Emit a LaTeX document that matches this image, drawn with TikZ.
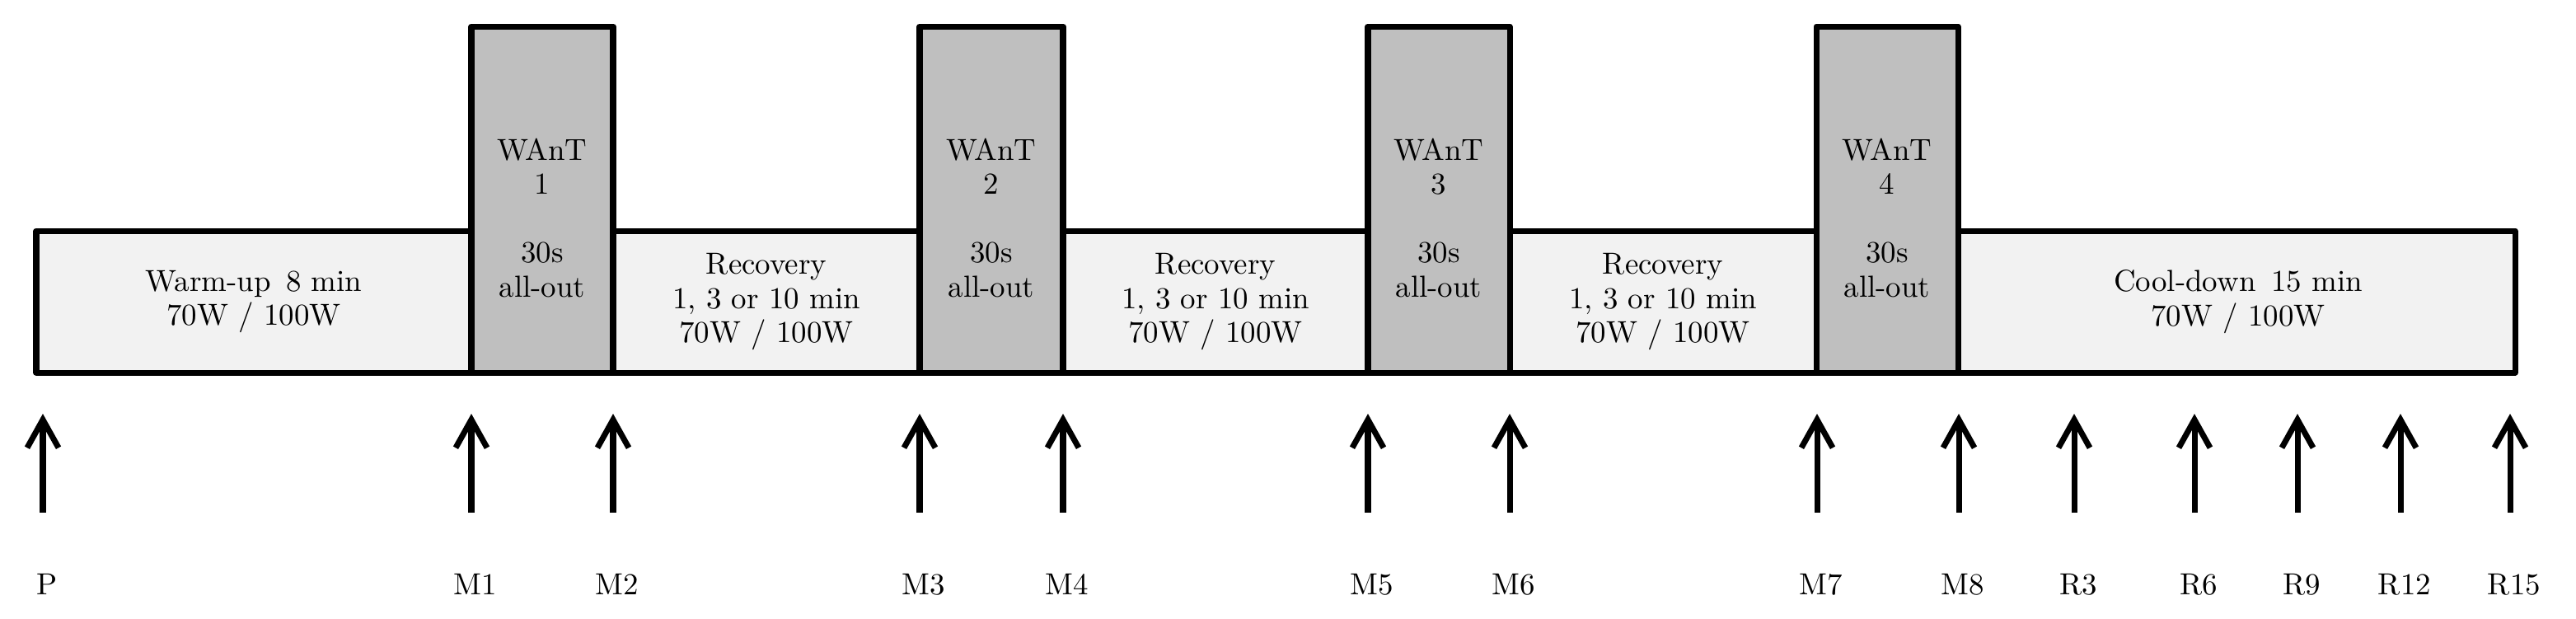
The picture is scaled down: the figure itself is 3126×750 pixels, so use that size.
\documentclass[tikz,border=0pt]{standalone}
\usetikzlibrary{arrows.meta}
\begin{document}
\begin{tikzpicture}[x=0.01cm,y=-0.01cm,
  lw/.style={line width=2pt, line join=round},
  light/.style={lw, fill={rgb,255:red,242;green,242;blue,242}},
  dark/.style={lw, fill={rgb,255:red,191;green,191;blue,191}},
  txt/.style={align=center, font=\fontsize{10.5}{11.8}\selectfont, inner sep=0pt},
  arr/.style={line width=2pt, -{Straight Barb[length=3.4mm,width=3.8mm,line width=2pt]}},
  lab/.style={font=\fontsize{10.5}{12}\selectfont, inner sep=0pt}]
\useasboundingbox (0,0) rectangle (3126,750);
% bar
\draw[light] (44,280) rectangle (3052,452);
% WAnT boxes
\foreach \a/\b/\n in {572/744/1,1116/1290/2,1660/1832/3,2204/2376/4}{
  \draw[dark] (\a,452) -- (\a,32) -- (\b,32) -- (\b,452);
  \node[txt] (w\n) at ({(\a+\b)/2},264) {WAnT\\\n\\[\baselineskip]30s\\all-out};
}
\draw[lw] (44,452) -- (3052,452);
\node[txt] (wu) at (308,366) {Warm-up\enspace 8 min\\70W / 100W};
\node[txt] (r1) at (930,366) {Recovery\\1, 3 or 10 min\\70W / 100W};
\node[txt] (r2) at (1475,366) {Recovery\\1, 3 or 10 min\\70W / 100W};
\node[txt] (r3) at (2018,366) {Recovery\\1, 3 or 10 min\\70W / 100W};
\node[txt] (cd) at (2716,366) {Cool-down\enspace 15 min\\70W / 100W};
% arrows and labels
\foreach \x/\l in {52/P,572/M1,744/M2,1116/M3,1290/M4,1660/M5,1832/M6,2205/M7,2377/M8,2517/R3,2663/R6,2788/R9,2913/R12,3046/R15}{
  \coordinate (t\l) at (\x,622);
  \coordinate (h\l) at (\x,502);
  \draw[arr] (t\l) -- (h\l);
  \node[lab] (n\l) at (\x+5,709) {\l};
}
\end{tikzpicture}
\end{document}
